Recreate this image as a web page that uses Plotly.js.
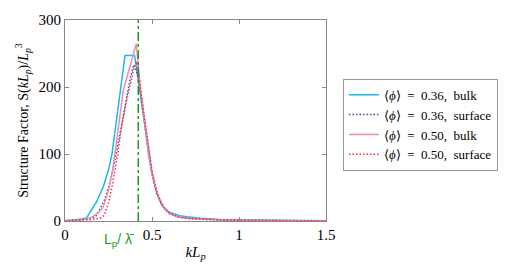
<!DOCTYPE html>
<html>
<head>
<meta charset="utf-8">
<script src="https://cdn.plot.ly/plotly-3.0.1.min.js"></script>
<style>
  html, body { margin: 0; padding: 0; background: #fff; }
  #chart { width: 515px; height: 269px; }
</style>
</head>
<body>
<div id="chart"></div>
<script>
let bulk036X = [0, 0.05, 0.1, 0.125, 0.18, 0.22, 0.25, 0.27, 0.345, 0.40, 0.42, 0.44, 0.46, 0.48, 0.5, 0.53, 0.56, 0.6, 0.66, 0.7, 0.78, 0.9, 1.0, 1.2, 1.5];
let bulk036Y = [0.5, 1.5, 3, 5, 28, 51, 76, 100, 247, 247, 212, 180, 140, 100, 70, 40, 22, 13, 8, 6.5, 4, 2, 1.5, 1, 0.5];

let surf036X = [0, 0.05, 0.1, 0.125, 0.15, 0.175, 0.2, 0.225, 0.25, 0.275, 0.3, 0.325, 0.35, 0.375, 0.395, 0.41, 0.425, 0.44, 0.46, 0.48, 0.5, 0.525, 0.55, 0.575, 0.6, 0.65, 0.7, 0.8, 0.9, 1.0, 1.2, 1.5];
let surf036Y = [0.3, 1, 2, 3, 4, 6, 18, 30, 50, 75, 108, 145, 180, 213, 233, 225, 208, 180, 141, 101, 71, 42, 27, 17, 11, 6, 4, 2.5, 1.5, 1, 0.6, 0.3];

let bulk050X = [0, 0.05, 0.1, 0.15, 0.19, 0.22, 0.25, 0.27, 0.29, 0.335, 0.41, 0.43, 0.46, 0.48, 0.5, 0.53, 0.565, 0.6, 0.65, 0.7, 0.8, 0.9, 1.0, 1.2, 1.5];
let bulk050Y = [0.3, 0.8, 2, 5, 12, 21, 46, 71, 106, 195, 265, 205, 141, 101, 71, 41, 21, 11, 6, 4, 2.5, 1.5, 1, 0.6, 0.3];

let surf050X = [0, 0.05, 0.1, 0.15, 0.2, 0.225, 0.25, 0.275, 0.3, 0.325, 0.35, 0.375, 0.4, 0.412, 0.425, 0.44, 0.46, 0.48, 0.5, 0.525, 0.55, 0.575, 0.6, 0.65, 0.7, 0.8, 0.9, 1.0, 1.2, 1.5];
let surf050Y = [0.2, 0.5, 1, 2, 4, 8, 27, 57, 95, 140, 175, 205, 232, 238, 218, 185, 146, 106, 75, 46, 29, 18, 12, 6, 4, 2.5, 1.5, 1, 0.6, 0.3];

let seriesNames = [
  "\u27e8<i>\u03d5</i>\u27e9\u2002=\u20020.36,\u2002bulk",
  "\u27e8<i>\u03d5</i>\u27e9\u2002=\u20020.36,\u2002surface",
  "\u27e8<i>\u03d5</i>\u27e9\u2002=\u20020.50,\u2002bulk",
  "\u27e8<i>\u03d5</i>\u27e9\u2002=\u20020.50,\u2002surface"
];

let peakK = 0.421;  // Lp / lambda-bar

let axisColor = "#888888";
let serif = "Liberation Serif";
let dots = "1.5px,2px";

let data = [
  {x: bulk036X, y: bulk036Y, name: seriesNames[0], type: "scatter", mode: "lines",
   line: {color: "#1cb5ee", width: 1.5}},
  {x: surf036X, y: surf036Y, name: seriesNames[1], type: "scatter", mode: "lines",
   line: {color: "#4a4aa0", width: 1.5, dash: dots}},
  {x: bulk050X, y: bulk050Y, name: seriesNames[2], type: "scatter", mode: "lines",
   line: {color: "#e98fa8", width: 1.5}},
  {x: surf050X, y: surf050Y, name: seriesNames[3], type: "scatter", mode: "lines",
   line: {color: "#ff2a3c", width: 1.5, dash: dots}}
];

let layout = {
  width: 515,
  height: 269,
  margin: {l: 65, r: 189, t: 20, b: 48},
  paper_bgcolor: "#ffffff",
  plot_bgcolor: "#ffffff",
  font: {family: serif, size: 15, color: "#000"},
  showlegend: true,
  xaxis: {
    range: [0, 1.5],
    tickvals: [0, 0.5, 1, 1.5],
    ticktext: ["0", "0.5", "1", "1.5"],
    ticks: "inside",
    ticklen: 4,
    tickcolor: axisColor,
    showline: true,
    linecolor: axisColor,
    linewidth: 1,
    mirror: "ticks",
    showgrid: false,
    zeroline: false,
    tickfont: {family: serif, size: 15},
    title: {text: "<i>kL</i><sub><i>p</i></sub>", font: {family: serif, size: 15}, standoff: 4}
  },
  yaxis: {
    range: [0, 300],
    tickvals: [0, 100, 200, 300],
    ticks: "inside",
    ticklen: 4,
    tickcolor: axisColor,
    showline: true,
    linecolor: axisColor,
    linewidth: 1,
    mirror: "ticks",
    showgrid: false,
    zeroline: false,
    tickfont: {family: serif, size: 15},
    title: {text: "Structure Factor, S(<i>kL</i><sub><i>p</i></sub>)/<i>L</i><sub><i>p</i></sub><sup>3</sup>",
            font: {family: serif, size: 14}, standoff: 6}
  },
  legend: {
    x: 1.065,
    y: 0.708,
    xanchor: "left",
    yanchor: "top",
    bgcolor: "#ffffff",
    bordercolor: "#999999",
    borderwidth: 1,
    font: {family: serif, size: 13, color: "#000"},
    tracegroupgap: 0,
    itemwidth: 30
  },
  shapes: [{
    type: "line", xref: "x", yref: "paper",
    x0: peakK, x1: peakK, y0: 0, y1: 1,
    line: {color: "#1f9a1f", width: 1.5, dash: "dashdot"}
  }],
  annotations: [{
    xref: "x", yref: "paper",
    x: 0.31, y: -0.04,
    xanchor: "center", yanchor: "top",
    showarrow: false,
    text: "L<sub>p</sub>/ \u03bb\u0304",
    font: {family: "Liberation Sans", size: 14, color: "#1f9a1f"}
  }]
};

Plotly.newPlot("chart", data, layout, {displayModeBar: false, staticPlot: true});
</script>
</body>
</html>
